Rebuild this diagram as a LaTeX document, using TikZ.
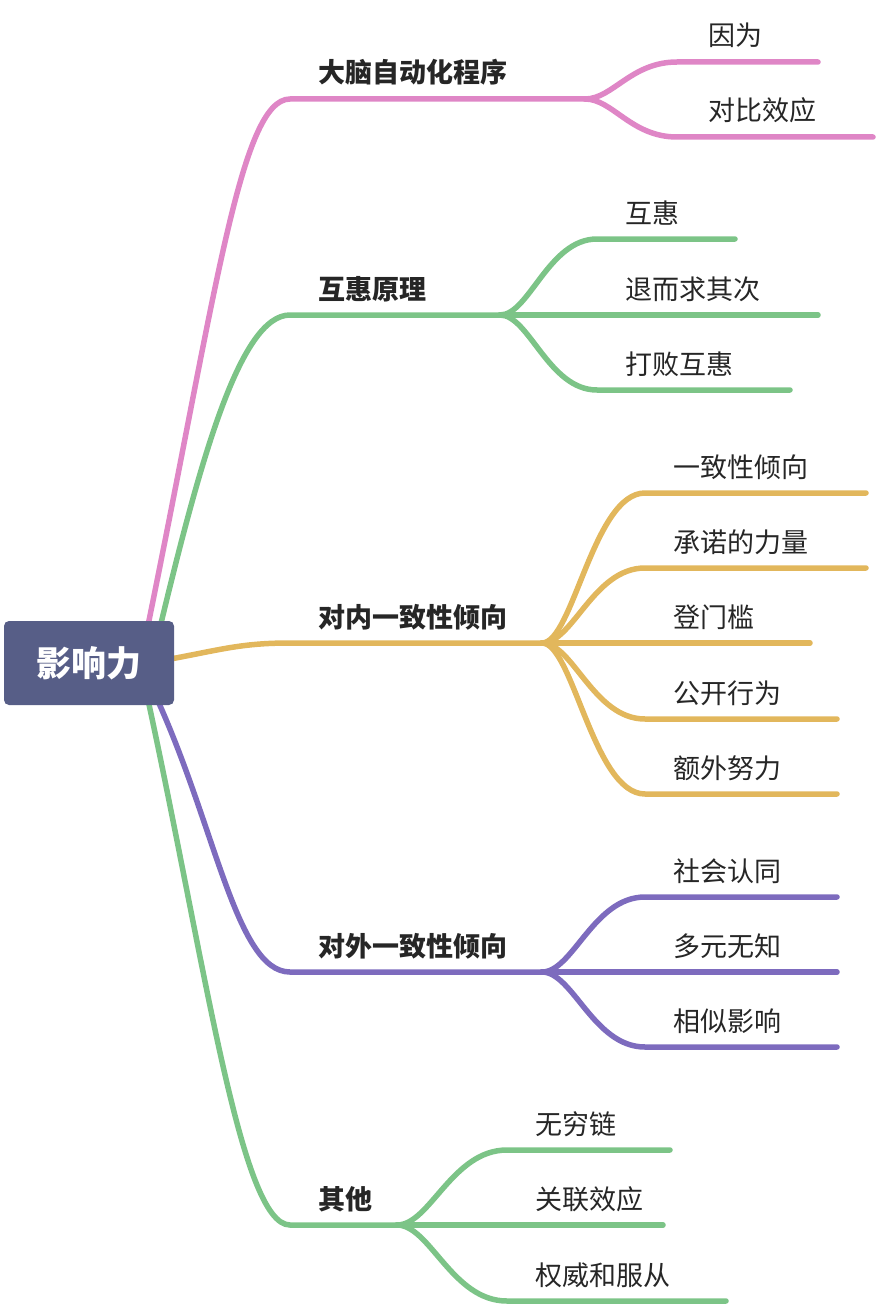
\documentclass[tikz,border=0pt]{standalone}
\usepackage{fontspec}
\newfontfamily\cjk{Noto Sans CJK SC}
\usetikzlibrary{calc,backgrounds}
\definecolor{cpink}{HTML}{DF86C6}
\definecolor{cgreen}{HTML}{7CC487}
\definecolor{cyellow}{HTML}{E2B75C}
\definecolor{cpurple}{HTML}{7D6BBE}
\definecolor{croot}{HTML}{575E87}
\definecolor{ctext}{HTML}{262626}
\tikzset{
  conn/.style={line width=5.5pt, line cap=round},
  sbranch/.style={to path={.. controls ($(\tikztostart)!0.3!(\tikztotarget|-\tikztostart)$) and ($(\tikztotarget)!0.5!(\tikztostart|-\tikztotarget)$) .. (\tikztotarget)}},
  topic/.style={anchor=base west, inner sep=0pt, text=ctext, font=\cjk\bfseries\fontsize{27pt}{27pt}\selectfont},
  subtopic/.style={anchor=base west, inner sep=0pt, text=ctext, font=\cjk\fontsize{27pt}{27pt}\selectfont},
  rootbox/.style={fill=croot, rounded corners=5pt, minimum width=170pt, minimum height=84pt, inner sep=0pt, text=white, font=\cjk\bfseries\fontsize{35pt}{35pt}\selectfont},
}
\begin{document}
\begin{tikzpicture}[x=1pt, y=-1pt]
\useasboundingbox (0,0) rectangle (876,1308);

% root
\node[rootbox] (root) at (89,663) {影响力};

% ---------- coordinates ----------
% pink
\coordinate (pA) at (145,640);
\coordinate (pB) at (290,99);
\coordinate (pS) at (585,99);
\coordinate (pC1) at (677,62);  \coordinate (pE1) at (818,62);
\coordinate (pC2) at (677,137); \coordinate (pE2) at (873,137);
% green 1
\coordinate (gA) at (157,640);
\coordinate (gB) at (290,315);
\coordinate (gS) at (500,315);
\coordinate (gC1) at (597,239); \coordinate (gE1) at (735,239);
\coordinate (gE2) at (818,315);
\coordinate (gC3) at (597,390); \coordinate (gE3) at (790,390);
% yellow
\coordinate (yA) at (165,660);
\coordinate (yB) at (290,643);
\coordinate (yS) at (542,643);
\coordinate (yC1) at (645,493); \coordinate (yE1) at (866,493);
\coordinate (yC2) at (645,568); \coordinate (yE2) at (866,568);
\coordinate (yE3) at (810,643);
\coordinate (yC4) at (645,719); \coordinate (yE4) at (837,719);
\coordinate (yC5) at (645,794); \coordinate (yE5) at (837,794);
% purple
\coordinate (uA) at (151,686);
\coordinate (uB) at (290,972);
\coordinate (uS) at (542,972);
\coordinate (uC1) at (645,897);  \coordinate (uE1) at (837,897);
\coordinate (uE2) at (837,972);
\coordinate (uC3) at (645,1047); \coordinate (uE3) at (837,1047);
% green 5
\coordinate (hA) at (145,686);
\coordinate (hB) at (290,1225);
\coordinate (hS) at (397,1225);
\coordinate (hC1) at (507,1150); \coordinate (hE1) at (670,1150);
\coordinate (hE2) at (663,1225);
\coordinate (hC3) at (507,1301); \coordinate (hE3) at (726,1301);

% ---------- connectors ----------
\begin{scope}[on background layer]
% pink
\draw[conn, cpink] (pA) .. controls (215,300) and (240,99) .. (pB) -- (pS);
\draw[conn, cpink] (pS) to[sbranch] (pC1) -- (pE1);
\draw[conn, cpink] (pS) to[sbranch] (pC2) -- (pE2);
% green 1
\draw[conn, cgreen] (gA) .. controls (200,460) and (240,315) .. (gB) -- (gS);
\draw[conn, cgreen] (gS) to[sbranch] (gC1) -- (gE1);
\draw[conn, cgreen] (gS) -- (gE2);
\draw[conn, cgreen] (gS) to[sbranch] (gC3) -- (gE3);
% yellow
\draw[conn, cyellow] (yA) .. controls (220,650) and (240,643) .. (yB) -- (yS);
\draw[conn, cyellow] (yS) to[sbranch] (yC1) -- (yE1);
\draw[conn, cyellow] (yS) to[sbranch] (yC2) -- (yE2);
\draw[conn, cyellow] (yS) -- (yE3);
\draw[conn, cyellow] (yS) to[sbranch] (yC4) -- (yE4);
\draw[conn, cyellow] (yS) to[sbranch] (yC5) -- (yE5);
% purple
\draw[conn, cpurple] (uA) .. controls (215,820) and (235,972) .. (uB) -- (uS);
\draw[conn, cpurple] (uS) to[sbranch] (uC1) -- (uE1);
\draw[conn, cpurple] (uS) -- (uE2);
\draw[conn, cpurple] (uS) to[sbranch] (uC3) -- (uE3);
% green 5
\draw[conn, cgreen] (hA) .. controls (205,960) and (240,1225) .. (hB) -- (hS);
\draw[conn, cgreen] (hS) to[sbranch] (hC1) -- (hE1);
\draw[conn, cgreen] (hS) -- (hE2);
\draw[conn, cgreen] (hS) to[sbranch] (hC3) -- (hE3);
\end{scope}

% ---------- texts ----------
\node[topic] (t1) at (318,83) {大脑自动化程序};
\node[subtopic] (t11) at (708,46) {因为};
\node[subtopic] (t12) at (708,121) {对比效应};

\node[topic] (t2) at (318,299) {互惠原理};
\node[subtopic] (t21) at (625,223) {互惠};
\node[subtopic] (t22) at (625,299) {退而求其次};
\node[subtopic] (t23) at (625,374) {打败互惠};

\node[topic] (t3) at (318,627) {对内一致性倾向};
\node[subtopic] (t31) at (673,477) {一致性倾向};
\node[subtopic] (t32) at (673,552) {承诺的力量};
\node[subtopic] (t33) at (673,627) {登门槛};
\node[subtopic] (t34) at (673,703) {公开行为};
\node[subtopic] (t35) at (673,778) {额外努力};

\node[topic] (t4) at (318,956) {对外一致性倾向};
\node[subtopic] (t41) at (673,881) {社会认同};
\node[subtopic] (t42) at (673,956) {多元无知};
\node[subtopic] (t43) at (673,1031) {相似影响};

\node[topic] (t5) at (318,1209) {其他};
\node[subtopic] (t51) at (535,1134) {无穷链};
\node[subtopic] (t52) at (535,1209) {关联效应};
\node[subtopic] (t53) at (535,1285) {权威和服从};
\end{tikzpicture}
\end{document}
